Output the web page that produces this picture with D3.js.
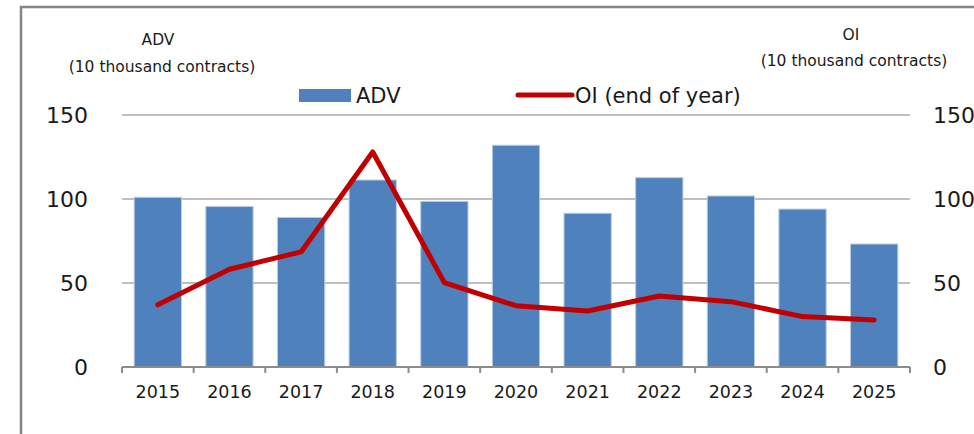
<!DOCTYPE html>
<html><head><meta charset="utf-8">
<script src="https://cdn.jsdelivr.net/npm/d3@7"></script>
<style>html,body{margin:0;padding:0;background:#fff;overflow:hidden}</style>
</head><body>
<svg id="c" width="974" height="434"></svg>
<script>
const years = ["2015","2016","2017","2018","2019","2020","2021","2022","2023","2024","2025"];
const adv = [101, 95.5, 89, 111.3, 98.6, 132, 91.5, 112.7, 101.8, 94, 73.2];
const oi = [37, 58.2, 68.5, 128, 50.2, 36.5, 33.3, 42.3, 38.9, 30, 28];
const yTicks = [0, 50, 100, 150];

const svg = d3.select("#c");
const font = "DejaVu Sans, Verdana, sans-serif";
const m = {l:122, r:910, t:115, b:367};

svg.append("rect").attr("x",21).attr("y",7).attr("width",1000).attr("height",500)
  .attr("fill","none").attr("stroke","#858585").attr("stroke-width",2.5);

const x = d3.scaleBand().domain(years).range([m.l, m.r]).paddingInner(0.34).paddingOuter(0.17);
const xb = d3.scaleBand().domain(years).range([m.l, m.r]);
const y = d3.scaleLinear().domain([0,150]).range([m.b, m.t]);
const y2 = d3.scaleLinear().domain([0,150]).range([m.b, m.t]);

// gridlines
svg.append("g").selectAll("line").data(yTicks.filter(d=>d>0)).join("line")
  .attr("x1",m.l).attr("x2",m.r).attr("y1",d=>y(d)).attr("y2",d=>y(d))
  .attr("stroke","#bfbfbf").attr("stroke-width",2);

// bars
svg.append("g").selectAll("rect").data(years).join("rect")
  .attr("x",d=>x(d)).attr("width",x.bandwidth())
  .attr("y",(d,i)=>y(adv[i])).attr("height",(d,i)=>y(0)-y(adv[i]))
  .attr("fill","#4f81bd").attr("stroke","#b8cce4").attr("stroke-width",1);

// x axis
const xAxis = svg.append("g").attr("transform",`translate(0,${m.b})`);
xAxis.append("line").attr("x1",m.l).attr("x2",m.r).attr("stroke","#8c8c8c").attr("stroke-width",2);
xAxis.selectAll("line.t").data(years.concat(["end"])).join("line").attr("class","t")
  .attr("x1",(d,i)=>m.l+i*xb.step()).attr("x2",(d,i)=>m.l+i*xb.step())
  .attr("y1",0).attr("y2",6).attr("stroke","#8c8c8c").attr("stroke-width",2);
xAxis.selectAll("text").data(years).join("text")
  .attr("x",d=>xb(d)+xb.bandwidth()/2).attr("y",26)
  .attr("text-anchor","middle").attr("dominant-baseline","middle")
  .attr("font-family",font).attr("font-size",17.5).attr("fill","#1a1a1a").text(d=>d);

// y axes labels
svg.append("g").selectAll("text").data(yTicks).join("text")
  .attr("x",88).attr("y",d=>y(d)).attr("text-anchor","end").attr("dominant-baseline","central")
  .attr("font-family",font).attr("font-size",22).attr("fill","#1a1a1a").text(d=>d);
svg.append("g").selectAll("text").data(yTicks).join("text")
  .attr("x",933).attr("y",d=>y2(d)).attr("text-anchor","start").attr("dominant-baseline","central")
  .attr("font-family",font).attr("font-size",22).attr("fill","#1a1a1a").text(d=>d);

// line
const line = d3.line().x((d,i)=>xb(years[i])+xb.bandwidth()/2).y(d=>y2(d));
svg.append("path").datum(oi).attr("d",line).attr("fill","none")
  .attr("stroke","#c00000").attr("stroke-width",5).attr("stroke-linejoin","round").attr("stroke-linecap","round");

// axis titles
const t = svg.append("g").attr("font-family",font).attr("font-size",15.5).attr("fill","#1a1a1a").attr("text-anchor","middle");
t.append("text").attr("x",158).attr("y",40).attr("dominant-baseline","central").text("ADV");
t.append("text").attr("x",162).attr("y",67).attr("dominant-baseline","central").text("(10 thousand contracts)");
t.append("text").attr("x",851).attr("y",35).attr("dominant-baseline","central").text("OI");
t.append("text").attr("x",854).attr("y",61).attr("dominant-baseline","central").text("(10 thousand contracts)");

// legend
const lg = svg.append("g").attr("font-family",font).attr("font-size",21).attr("fill","#1a1a1a");
lg.append("rect").attr("x",299).attr("y",89).attr("width",52).attr("height",13).attr("fill","#4f81bd");
lg.append("text").attr("x",356).attr("y",96).attr("dominant-baseline","central").text("ADV");
lg.append("line").attr("x1",518).attr("x2",572).attr("y1",95).attr("y2",95).attr("stroke","#c00000").attr("stroke-width",5).attr("stroke-linecap","round");
lg.append("text").attr("x",575).attr("y",96).attr("dominant-baseline","central").text("OI (end of year)");
</script>
</body></html>
